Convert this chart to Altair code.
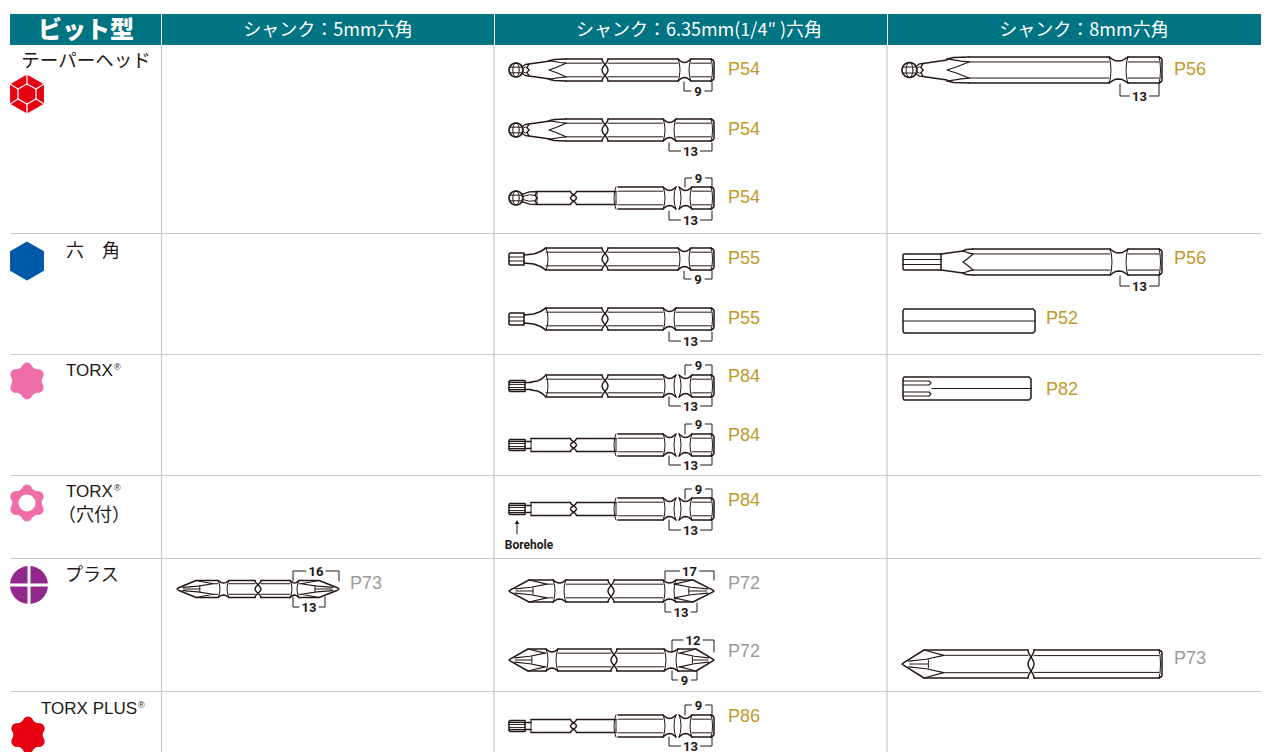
import math
import altair as alt
import pandas as pd

alt.data_transformers.disable_max_rows()

INK = "#231815"
TEAL = "#007482"
GRID = "#c9c9c9"
GOLD = "#bf9a2b"
GREY = "#9a9a9a"

header_cells = [(9, 160), (161, 493), (494, 886), (887, 1270)]
header_labels = ["シャンク：5mm六角", "シャンク：6.35mm(1/4″ )六角", "シャンク：8mm六角"]
header_centers = [327, 698, 1083]
row_lines = [233.5, 354.5, 475.5, 558.5, 691.5]
col_lines = [160.5, 493, 886]

# page refs: text, x, y, colour
page_refs = [
    ("P54", 727, 68, GOLD), ("P54", 727, 128, GOLD), ("P54", 727, 196, GOLD),
    ("P55", 727, 257, GOLD), ("P55", 727, 317, GOLD),
    ("P84", 727, 375, GOLD), ("P84", 727, 434, GOLD), ("P84", 727, 499, GOLD),
    ("P72", 727, 582, GREY), ("P72", 727, 650, GREY), ("P86", 727, 715, GOLD),
    ("P56", 1173, 68, GOLD), ("P56", 1173, 257, GOLD), ("P52", 1045, 317, GOLD),
    ("P82", 1045, 388, GOLD), ("P73", 1173, 657, GREY), ("P73", 349, 582, GREY),
]
# dimension brackets: label, x1, x2, y, y0
dims = [
    ("9", 683, 711, 91, 82), ("13", 668, 711, 151, 143),
    ("9", 684, 711, 178, 187), ("13", 668, 711, 220, 211),
    ("9", 683, 711, 279, 271), ("13", 668, 711, 341, 332),
    ("9", 684, 711, 365, 375), ("13", 668, 711, 406, 397),
    ("9", 684, 711, 424, 434), ("13", 668, 711, 465, 456),
    ("9", 684, 711, 489, 499), ("13", 668, 711, 530, 520),
    ("17", 664, 713, 571, 580), ("13", 664, 696, 612, 603),
    ("12", 671, 713, 640, 652), ("9", 671, 696, 680, 671),
    ("9", 684, 711, 705, 715), ("13", 668, 711, 746, 737),
    ("13", 1119, 1158, 96, 84), ("13", 1119, 1158, 286, 276),
    ("16", 292, 338, 571, 581), ("13", 292, 324, 607, 597),
]
# left column labels: text, x, y, size, align
side_labels = [
    ("テーパーヘッド", 85, 60, 18.5, "center"),
    ("六　角", 65, 250, 18, "left"),
    ("プラス", 64, 574, 18, "left"),
    ("（穴付）", 57, 514, 18, "left"),
]
latin_labels = [
    ("TORX", 65, 370, 17), ("TORX", 65, 491, 17), ("TORX PLUS", 40, 708, 17),
]
reg_marks = [(113, 366), (113, 487), (137, 704)]

HEX = "M0,-1L0.87,-0.5L0.87,0.5L0,1L-0.87,0.5L-0.87,-0.5Z"


def star(valley, shoulder=0.9, spread=14):
    d = ""
    for i in range(6):
        a = -90 + 60 * i
        pts = [(shoulder, a - spread), (1.07, a), (shoulder, a + spread), (valley, a + 30), (shoulder, a + 60 - spread)]
        xy = [(r * math.cos(math.radians(t)), r * math.sin(math.radians(t))) for r, t in pts]
        if i == 0:
            d += f"M{xy[0][0]:.3f},{xy[0][1]:.3f}"
        d += f"Q{xy[1][0]:.3f},{xy[1][1]:.3f} {xy[2][0]:.3f},{xy[2][1]:.3f}"
        d += f"Q{xy[3][0]:.3f},{xy[3][1]:.3f} {xy[4][0]:.3f},{xy[4][1]:.3f}"
    return d + "Z"


TORX = star(0.68)
# icons: shape, cx, cy, radius, colour
icons = [
    (HEX, 26, 94, 19.5, "#e60012"),
    (HEX, 26, 261, 19.5, "#0058a8"),
    (TORX, 26, 381, 19, "#ee6fa6"),
    (TORX, 26, 503, 19, "#ee6fa6"),
    ("circle", 28, 585, 19, "#93288c"),
    (TORX, 27, 735, 19, "#e60012"),
]
holes = [(26, 503, 8.5)]

lines = []
_id = [0]


def P(pts, w=1.5, c=INK):
    _id[0] += 1
    for i, (x, y) in enumerate(pts):
        lines.append({"id": _id[0], "o": i, "x": x, "y": y, "w": w, "c": c})


def hexs(x1, x2, cy, h, inner=0.62):
    P([(x1, cy - h), (x2, cy - h)])
    P([(x1, cy + h), (x2, cy + h)])
    P([(x1, cy - h * inner), (x2, cy - h * inner)], 1.0)
    P([(x1, cy + h * inner), (x2, cy + h * inner)], 1.0)


def arc(x, cy, h, s=1.5):
    P([(x, cy - h), (x + s * 0.7, cy - h * 0.62), (x + s, cy), (x + s * 0.7, cy + h * 0.62), (x, cy + h)], 1.0)


def groove(x1, x2, cy, h, d=3.5):
    tt = [0, 0.15, 0.3, 0.5, 0.7, 0.85, 1]
    dd = [0, 0.45, 0.85, 1, 0.85, 0.45, 0]
    for sign in (-1, 1):
        P([(x1 + (x2 - x1) * t, cy + sign * (h - d * v)) for t, v in zip(tt, dd)])
    arc(x1, cy, h, 2)
    arc(x2, cy, h, -2)


def endcap(x, cy, h):
    P([(x - 3, cy - h), (x - 0.5, cy - h + 1.5), (x, cy - h + 3), (x, cy + h - 3), (x - 0.5, cy + h - 1.5), (x - 3, cy + h)])
    arc(x - 3, cy, h, 1.5)


def twist(x, cy, h):
    n = 12
    for s in (-1, 1):
        P([(x + s * 3 * math.cos(2 * math.pi * i / n), cy - h + 2 * h * i / n) for i in range(n + 1)], 1.4)


def ball(x, cy, r=7):
    n = 20
    cx = x + r
    P([(cx + r * math.cos(2 * math.pi * i / n), cy + r * math.sin(2 * math.pi * i / n)) for i in range(n + 1)], 1.6)
    P([(cx + r * 0.45 * math.cos(2 * math.pi * i / n), cy + r * math.sin(2 * math.pi * i / n)) for i in range(n + 1)], 1.0)
    for k in (-0.4, 0.4):
        P([(cx - r * 0.95, cy + k * r), (cx + r * 0.95, cy + k * r)], 1.0)
    return cx + r


def petals(x1, x2, cy, h):
    m = (x1 + x2) / 2
    for s in (-1, 1):
        P([(x1, cy + s * h * 0.55), (m, cy + s * h * 0.95), (x2, cy + s * h), (x2 - 2, cy + s * h * 0.4), (x2, cy)], 1.3)
        P([(x1, cy + s * h * 0.2), (m, cy + s * h * 0.5), (x2 - 2, cy + s * h * 0.4)], 1.0)


def flutes(x, cy, h, L):
    # crescents and a left-pointing V where a taper runs into the hex body
    for s in (-1, 1):
        P([(x - L, cy + s * h * 0.85), (x - L * 0.35, cy + s * h * 0.68), (x, cy + s * h * 0.62)], 1.2)
        P([(x - L, cy + s * h * 0.85), (x - L * 0.7, cy + s * h * 0.96), (x, cy + s * h)])
    P([(x, cy - h * 0.62), (x - L * 0.55, cy - h * 0.25), (x - L, cy), (x - L * 0.55, cy + h * 0.25), (x, cy + h * 0.62)], 1.2)


def tail(cy, kind, h=11):
    if kind == "9":
        groove(677, 690, cy, h)
        hexs(690, 710, cy, h)
        return 677
    if kind == "13":
        groove(662, 675, cy, h)
        hexs(675, 710, cy, h)
        return 662
    groove(662, 675, cy, h)
    groove(678, 691, cy, h)
    hexs(691, 710, cy, h)
    return 662


def body(cy, x1, xg, h=11, xt=604):
    hexs(x1, xt - 3, cy, h)
    hexs(xt + 3, xg, cy, h)
    twist(xt, cy, h)


def ball_taper(cy, kind):
    end = ball(508, cy, 7)
    petals(end - 1, 528, cy, 6)
    P([(528, cy - 6), (549, cy - 9)])
    P([(528, cy + 6), (549, cy + 9)])
    flutes(565, cy, 11, 17)
    body(cy, 565, tail(cy, kind))
    endcap(713, cy, 11)


def ball_thin(cy):
    end = ball(508, cy, 7)
    petals(end - 1, 536, cy, 6.5)
    thin(cy, 536)


def thin(cy, x0):
    P([(x0, cy - 6.5), (569.5, cy - 6.5)])
    P([(x0, cy + 6.5), (569.5, cy + 6.5)])
    P([(575.5, cy - 6.5), (615, cy - 6.5)])
    P([(575.5, cy + 6.5), (615, cy + 6.5)])
    P([(x0, cy - 6.5), (x0, cy + 6.5)], 1.0)
    twist(572.5, cy, 6.5)
    arc(615, cy, 11, -2)
    P([(615, cy - 6.5), (615, cy + 6.5)], 1.0)
    xg = tail(cy, "double")
    hexs(617, xg, cy, 11)
    endcap(713, cy, 11)


def hex_tip(x1, x2, cy, h, inner=2.0):
    P([(x1 + 1, cy - h), (x2, cy - h), (x2, cy + h), (x1 + 1, cy + h), (x1, cy + h - 1), (x1, cy - h + 1), (x1 + 1, cy - h)])
    P([(x1, cy - inner), (x2, cy - inner)], 1.0)
    P([(x1, cy + inner), (x2, cy + inner)], 1.0)


def torx_tip(x1, x2, cy, h=5.5):
    hex_tip(x1, x2 - 6, cy, h, 1.6)
    P([(x1, cy - 3.6), (x2 - 7, cy - 3.6)], 1.2)
    P([(x1, cy + 3.6), (x2 - 7, cy + 3.6)], 1.2)
    P([(x2 - 6, cy - 3.5), (x2, cy - 3.5)])
    P([(x2 - 6, cy + 3.5), (x2, cy + 3.5)])


def neck(x1, x2, cy, h1, h2):
    L = x2 - x1
    for s in (-1, 1):
        P([(x1, cy + s * h1), (x1 + L * 0.45, cy + s * (h1 + 0.15 * (h2 - h1))), (x1 + L * 0.75, cy + s * (h1 + 0.5 * (h2 - h1))), (x2, cy + s * h2)])
    arc(x2, cy, h2, 2)


def hex_bit(cy, kind):
    hex_tip(508, 523, cy, 6)
    neck(523, 545, cy, 4, 11)
    body(cy, 545, tail(cy, kind))
    endcap(713, cy, 11)


def torx_taper(cy):
    torx_tip(508, 530, cy)
    neck(530, 545, cy, 4, 11)
    body(cy, 545, tail(cy, "double"))
    endcap(713, cy, 11)


def torx_thin(cy):
    torx_tip(508, 530, cy)
    thin(cy, 530)


def plus_tip(xt, xw, xe, cy, h):
    s = 1 if xe > xt else -1
    L = abs(xw - xt)
    P([(xe, cy - h), (xw, cy - h), (xt + s * 1.5, cy - 1.2), (xt, cy), (xt + s * 1.5, cy + 1.2), (xw, cy + h), (xe, cy + h)])
    for k in (-1, 1):
        P([(xw, cy + k * h), (xw + s * 0.9 * L, cy + k * 0.62 * h), (xw + s * 0.1 * L, cy + k * 0.34 * h), (xt + s * 0.3 * L, cy + k * 0.2 * h)], 1.2)
        P([(xw + s * 0.9 * L, cy + k * 0.62 * h), (xe, cy + k * 0.62 * h)], 1.0)
    P([(xt + s * 0.35 * L, cy), (xw + s * 0.2 * L, cy)], 1.0)
    P([(xw + s * 0.2 * L, cy - 0.3 * h), (xw + s * 0.2 * L, cy + 0.3 * h)], 1.0)


def double_plus(cy, h, xt, xw, g1, g2, xt2, g3, g4, xw2, xe, d=3):
    plus_tip(xt, xw, g1, cy, h)
    groove(g1, g2, cy, h, d)
    hexs(g2, xt2 - 3, cy, h)
    twist(xt2, cy, h)
    hexs(xt2 + 3, g3, cy, h)
    groove(g3, g4, cy, h, d)
    plus_tip(xe, xw2, g4, cy, h)


# ---- column 2 ----
ball_taper(70, "9")
ball_taper(130, "13")
ball_thin(198)
hex_bit(259, "9")
hex_bit(319, "13")
torx_taper(386)
torx_thin(445)
torx_thin(509)
double_plus(591, 11, 508, 528, 552, 565, 610, 662, 675, 692, 713)
double_plus(660, 11, 508, 527, 545, 557, 613, 663, 677, 695, 713)
torx_thin(726)

# ---- column 3 ----
e = ball(901, 70, 7.5)
petals(e - 1, 922, 70, 6.5)
P([(922, 63.5), (946, 60)])
P([(922, 76.5), (946, 80)])
flutes(968, 70, 13, 22)
hexs(968, 1108, 70, 13)
groove(1108, 1127, 70, 13, 4)
hexs(1127, 1158, 70, 13)
endcap(1161, 70, 13)

hex_tip(902, 940, 262, 8, 2.5)
P([(940, 254), (962, 251)])
P([(940, 270), (962, 273)])
flutes(972, 262, 13, 10)
hexs(972, 1109, 262, 13)
groove(1109, 1127, 262, 13, 4)
hexs(1127, 1158, 262, 13)
endcap(1161, 262, 13)

P([(903, 309), (1032, 309), (1034, 311), (1034, 331), (1032, 333), (903, 333), (902, 331), (902, 311), (903, 309)])
P([(902, 321), (1034, 321)], 1.1)

P([(903, 377), (1028, 377), (1030, 379), (1030, 398), (1028, 400), (903, 400), (902, 398), (902, 379), (903, 377)])
P([(902, 381), (928, 381), (930, 383), (928, 385), (902, 385)], 1.1)
P([(902, 392), (928, 392), (930, 394), (928, 396), (902, 396)], 1.1)
P([(931, 388.5), (1030, 388.5)], 1.1)

plus_tip(901, 923, 1027, 664, 14)
twist(1030, 664, 14)
hexs(1033, 1158, 664, 14, 0.6)
endcap(1161, 664, 14)

# ---- column 1 ----
double_plus(589, 8.5, 176, 195, 217, 228, 257, 289, 298, 318, 338, 2.5)

# ---- dimension brackets ----
for label, x1, x2, y, y0 in dims:
    mid = (x1 + x2) / 2
    gap = 7 if len(label) == 1 else 10
    P([(x1, y0), (x1, y), (mid - gap, y)], 1.0)
    P([(mid + gap, y), (x2, y), (x2, y0)], 1.0)

# ---- borehole arrow ----
P([(516, 534), (516, 523)], 1.0)

# ---- icon details (white) ----
P([(26, 84), (35, 89), (35, 99), (26, 104), (17, 99), (17, 89), (26, 84)], 1.3, "#ffffff")
for xa, ya, xb, yb in [(26, 74.5, 26, 84), (43, 84, 35, 89), (43, 104, 35, 99), (26, 113.5, 26, 104), (9, 104, 17, 99), (9, 84, 17, 89)]:
    P([(xa, ya), (xb, yb)], 1.3, "#ffffff")
P([(9, 585), (47, 585)], 3, "#ffffff")
P([(28, 566), (28, 604)], 3, "#ffffff")

x_s = alt.Scale(domain=[10, 1260], nice=False, zero=False)
y_s = alt.Scale(domain=[8, 752], nice=False, zero=False, reverse=True)
X = alt.X("x:Q", scale=x_s, axis=None)
Y = alt.Y("y:Q", scale=y_s, axis=None)

hdr = pd.DataFrame([{"x": a, "x2": min(b, 1260), "y": 14, "y2": 45} for a, b in header_cells])
header = alt.Chart(hdr).mark_rect(color=TEAL).encode(X, Y, x2="x2:Q", y2="y2:Q")

grid_df = pd.DataFrame(
    [{"x": 10, "x2": 1260, "y": y, "y2": y} for y in row_lines]
    + [{"x": x, "x2": x, "y": 45, "y2": 752} for x in col_lines]
)
grid = alt.Chart(grid_df).mark_rule(color=GRID, strokeWidth=1.2).encode(X, Y, x2="x2:Q", y2="y2:Q")

icon_df = pd.DataFrame(
    [{"s": s, "x": x, "y": y, "size": (2 * r) ** 2, "c": c} for s, x, y, r, c in icons]
)
icon_layer = alt.Chart(icon_df).mark_point(filled=True, opacity=1, strokeWidth=0).encode(
    X, Y,
    shape=alt.Shape("s:N", scale=None),
    size=alt.Size("size:Q", scale=None),
    color=alt.Color("c:N", scale=None),
)
hole_df = pd.DataFrame([{"x": x, "y": y, "size": (2 * r) ** 2} for x, y, r in holes])
hole_layer = alt.Chart(hole_df).mark_point(filled=True, opacity=1, shape="circle", color="#ffffff", strokeWidth=0).encode(
    X, Y, size=alt.Size("size:Q", scale=None)
)

line_layer = alt.Chart(pd.DataFrame(lines)).mark_line(strokeCap="round", strokeJoin="round").encode(
    X, Y,
    detail="id:N",
    order="o:Q",
    color=alt.Color("c:N", scale=None),
    strokeWidth=alt.StrokeWidth("w:Q", scale=None),
)

arrow = alt.Chart(pd.DataFrame([{"x": 516, "y": 522}])).mark_point(
    shape="triangle-up", filled=True, opacity=1, color=INK, size=22, strokeWidth=0
).encode(X, Y)


def text_layer(rows, font, weight=400, align="left", dy=1):
    df = pd.DataFrame(rows)
    return alt.Chart(df).mark_text(font=font, fontWeight=weight, align=align, baseline="middle", dy=dy).encode(
        X, Y, text="t:N",
        size=alt.Size("s:Q", scale=None),
        color=alt.Color("c:N", scale=None),
    )


JP = "Noto Sans CJK JP"
LAT = "Liberation Sans"
t_head = text_layer([{"t": "ビット型", "x": 85, "y": 29, "s": 24, "c": "#ffffff"}], JP, 900, "center", 2)
t_cols = text_layer(
    [{"t": t, "x": x, "y": 30, "s": 18, "c": "#ffffff"} for t, x in zip(header_labels, header_centers)],
    JP, 400, "center", 1,
)
t_side_c = text_layer(
    [{"t": t, "x": x, "y": y, "s": s, "c": INK} for t, x, y, s, a in side_labels if a == "center"], JP, 400, "center", 1
)
t_side_l = text_layer(
    [{"t": t, "x": x, "y": y, "s": s, "c": INK} for t, x, y, s, a in side_labels if a == "left"], JP, 400, "left", 2
)
t_lat = text_layer([{"t": t, "x": x, "y": y, "s": s, "c": INK} for t, x, y, s in latin_labels], LAT, 400)
t_reg = text_layer([{"t": "®", "x": x, "y": y, "s": 9, "c": INK} for x, y in reg_marks], LAT, 400)
t_refs = text_layer([{"t": t, "x": x, "y": y, "s": 18, "c": c} for t, x, y, c in page_refs], LAT, 400, "left", 1.5)
t_dims = text_layer(
    [{"t": t, "x": (a + b) / 2, "y": y, "s": 13, "c": INK} for t, a, b, y, _ in dims], "Roboto", 700, "center"
)
t_bore = text_layer([{"t": "Borehole", "x": 528, "y": 544, "s": 12, "c": INK}], "Roboto", 700, "center")

chart = alt.layer(
    grid, header, icon_layer, hole_layer, line_layer, arrow,
    t_head, t_cols, t_side_c, t_side_l, t_lat, t_reg, t_refs, t_dims, t_bore,
).properties(width=1250, height=744, padding=0, background="#ffffff").configure_view(stroke=None)

chart.save("out.html", embed_options={"renderer": "svg", "actions": False})
